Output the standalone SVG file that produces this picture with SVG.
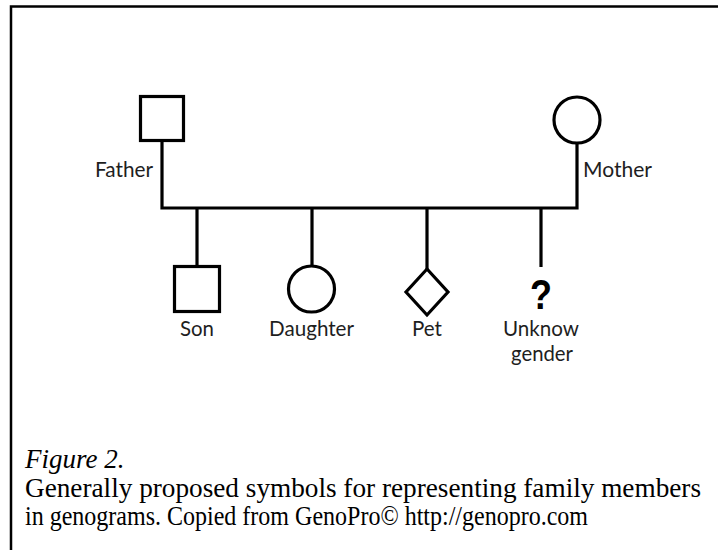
<svg xmlns="http://www.w3.org/2000/svg" width="718" height="550" viewBox="0 0 718 550">
  <style>
    .sym { fill: #ffffff; stroke: #000000; stroke-width: 3.2; }
    .link { fill: none; stroke: #000000; stroke-width: 3.2; stroke-linejoin: miter; stroke-linecap: butt; }
    .lbl { font-family: Lato, "Open Sans", "Liberation Sans", sans-serif; font-size: 20.5px; fill: #1e1e1e; }
    .cap { font-family: "Liberation Serif", "Times New Roman", serif; font-size: 27px; fill: #000000; }
  </style>

  <!-- page frame -->
  <rect x="11" y="6.5" width="730" height="560" fill="#ffffff" stroke="#000000" stroke-width="2.5"/>

  <!-- connectors -->
  <g id="connectors">
    <path class="link" d="M162,140 V208 H577 V143"/>
    <path class="link" d="M197,208 V266"/>
    <path class="link" d="M312,208 V265"/>
    <path class="link" d="M427,208 V269"/>
    <path class="link" d="M541,208 V267"/>
  </g>

  <!-- parents -->
  <g id="father">
    <rect class="sym" x="140.5" y="96.5" width="43" height="44"/>
    <text class="lbl" x="153" y="177" text-anchor="end" textLength="58" lengthAdjust="spacingAndGlyphs">Father</text>
  </g>
  <g id="mother">
    <circle class="sym" cx="577" cy="120" r="23"/>
    <text class="lbl" x="583" y="177" textLength="69" lengthAdjust="spacingAndGlyphs">Mother</text>
  </g>

  <!-- children -->
  <g id="son">
    <rect class="sym" x="174.5" y="266.5" width="45" height="45"/>
    <text class="lbl" x="197" y="336" text-anchor="middle" textLength="34" lengthAdjust="spacingAndGlyphs">Son</text>
  </g>
  <g id="daughter">
    <circle class="sym" cx="311.5" cy="289" r="23"/>
    <text class="lbl" x="311.5" y="336" text-anchor="middle" textLength="85" lengthAdjust="spacingAndGlyphs">Daughter</text>
  </g>
  <g id="pet">
    <polygon class="sym" points="427,269 448,292 427,315 406,292"/>
    <text class="lbl" x="427" y="336" text-anchor="middle" textLength="30" lengthAdjust="spacingAndGlyphs">Pet</text>
  </g>
  <g id="unknown">
    <text x="541" y="309" text-anchor="middle" font-family="'Liberation Sans', Arial, sans-serif" font-weight="bold" font-size="43" fill="#000000" textLength="22" lengthAdjust="spacingAndGlyphs">?</text>
    <text class="lbl" x="541" y="336" text-anchor="middle" textLength="76" lengthAdjust="spacingAndGlyphs">Unknow</text>
    <text class="lbl" x="542" y="361" text-anchor="middle" textLength="62" lengthAdjust="spacingAndGlyphs">gender</text>
  </g>

  <!-- caption -->
  <g id="caption">
    <text class="cap" x="25" y="468" font-style="italic" font-size="28">Figure 2.</text>
    <text class="cap" x="25" y="497" textLength="676" lengthAdjust="spacingAndGlyphs">Generally proposed symbols for representing family members</text>
    <text class="cap" x="25" y="525" font-size="28" textLength="563" lengthAdjust="spacingAndGlyphs">in genograms. Copied from GenoPro© http://genopro.com</text>
  </g>
</svg>
